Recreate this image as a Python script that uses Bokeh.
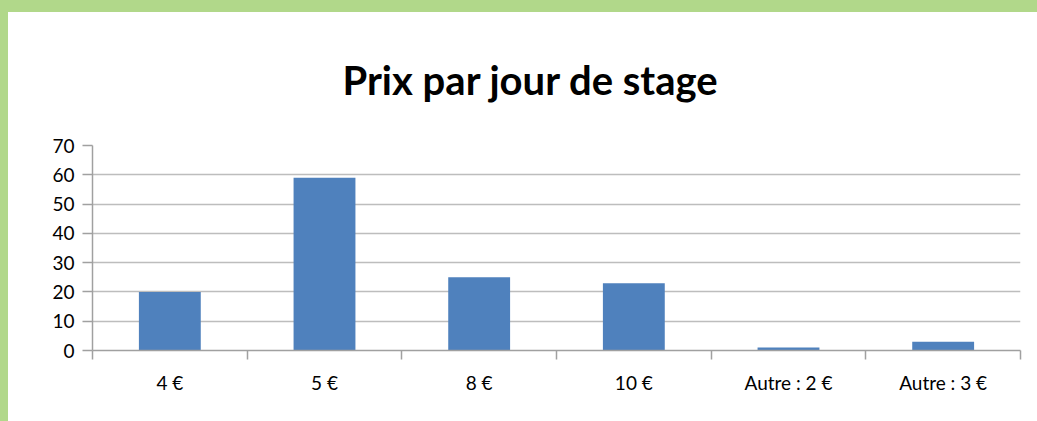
from bokeh.plotting import figure
from bokeh.models import FixedTicker, Range1d, ColumnDataSource
from bokeh.embed import file_html
from bokeh.resources import INLINE

categories = ["4 €", "5 €", "8 €", "10 €", "Autre : 2 €", "Autre : 3 €"]
values = [20, 59, 25, 23, 1, 3]
y_ticks = [0, 10, 20, 30, 40, 50, 60, 70]
title_text = "Prix par jour de stage"

n = len(categories)
centers = [i + 0.5 for i in range(n)]
src = ColumnDataSource(dict(x=centers, top=values, cat=categories))

GREEN = "#B1D88A"
FONT = "Lato"

p = figure(width=1029, height=409, output_backend="svg", toolbar_location=None,
           x_range=Range1d(0, n), y_range=Range1d(0, 70),
           min_border_left=84, min_border_right=17, min_border_top=133, min_border_bottom=71,
           background_fill_color="white", border_fill_color="white", outline_line_color=None,
           title=title_text)
p.styles = {"margin": "12px 0 0 8px",
            "box-shadow": f"-8px -12px 0 0 {GREEN}, -8px 0 0 0 {GREEN}, 0 -12px 0 0 {GREEN}"}

p.vbar(x="x", top="top", width=0.4, source=src, fill_color="#4F81BD", line_color=None)

# title
p.title.align = "left"
p.title.offset = 250
p.title.standoff = 83
p.title.text_font = FONT
p.title.text_font_style = "bold"
p.title.text_font_size = "40px"
p.title.text_color = "#000000"

# y axis
p.yaxis.ticker = FixedTicker(ticks=y_ticks)
p.yaxis.axis_line_color = "#A0A0A0"
p.yaxis.axis_line_width = 1.5
p.yaxis.major_tick_line_color = "#A0A0A0"
p.yaxis.major_tick_line_width = 1.5
p.yaxis.major_tick_out = 10
p.yaxis.major_tick_in = 0
p.yaxis.minor_tick_line_color = None
p.yaxis.major_label_standoff = 8
p.yaxis.major_label_text_font = FONT
p.yaxis.major_label_text_font_size = "19px"
p.yaxis.major_label_text_color = "#000000"

# x axis
p.xaxis.ticker = FixedTicker(ticks=centers, minor_ticks=list(range(n + 1)))
p.xaxis.major_label_overrides = {c: cat for c, cat in zip(centers, categories)}
p.xaxis.axis_line_color = "#A0A0A0"
p.xaxis.axis_line_width = 1.5
p.xaxis.major_tick_line_color = None
p.xaxis.major_tick_out = 0
p.xaxis.major_tick_in = 0
p.xaxis.minor_tick_line_color = "#A0A0A0"
p.xaxis.minor_tick_line_width = 1.5
p.xaxis.minor_tick_out = 9
p.xaxis.minor_tick_in = 0
p.xaxis.major_label_standoff = 11
p.xaxis.major_label_text_font = FONT
p.xaxis.major_label_text_font_size = "19px"
p.xaxis.major_label_text_color = "#000000"

p.xgrid.grid_line_color = None
p.ygrid.grid_line_color = "#BDBDBD"
p.ygrid.grid_line_width = 1.5

open("out.html", "w").write(file_html(p, INLINE))
